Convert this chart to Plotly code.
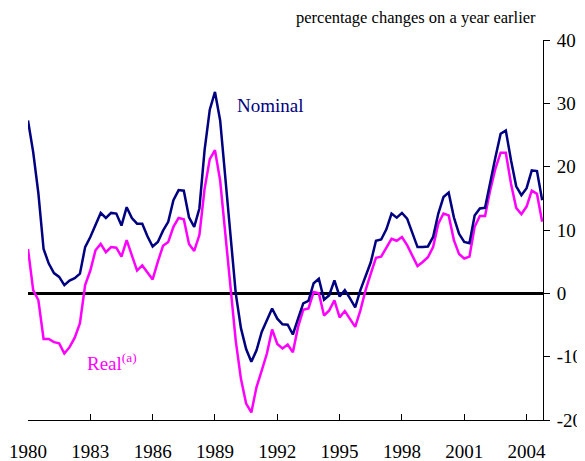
import plotly.graph_objects as go

start_year = 1980
nominal = [
    27.3, 22.3, 15.8, 7.0,
    4.7, 3.2, 2.6, 1.3,
    2.0, 2.4, 3.1, 7.3,
    8.9, 10.7, 12.7, 11.9,
    12.7, 12.6, 10.7, 13.6,
    11.9, 11.0, 11.0, 9.0,
    7.4, 8.1, 9.9, 11.3,
    14.7, 16.3, 16.2, 12.0,
    10.5, 13.4, 22.6, 29.0,
    31.8, 27.3, 18.5, 8.8,
    0.0, -5.5, -8.8, -10.8,
    -9.0, -6.1, -4.3, -2.4,
    -4.0, -4.9, -4.95, -6.5,
    -4.0, -1.6, -1.2, 1.6,
    2.3, -1.0, -0.3, 2.05,
    -0.5, 0.5, -0.8, -2.2,
    0.5, 2.6, 4.9, 8.3,
    8.5, 10.1, 12.6, 11.95,
    12.7, 11.8, 9.4, 7.3,
    7.3, 7.4, 8.9, 12.6,
    15.2, 15.9, 12.0, 9.4,
    8.1, 7.9, 12.3, 13.4,
    13.5, 17.8, 21.5, 25.2,
    25.7, 21.0, 16.9, 15.5,
    16.6, 19.4, 19.3, 14.7,
]
real = [
    7.0, 0.5, -1.1, -7.2,
    -7.2, -7.7, -7.9, -9.5,
    -8.5, -7.0, -4.7, 1.3,
    3.6, 6.8, 7.8, 6.5,
    7.3, 7.2, 5.8, 8.4,
    6.0, 3.6, 4.4, 3.2,
    2.2, 5.0, 7.5, 8.1,
    10.5, 11.9, 11.7, 7.8,
    6.7, 9.2, 16.5, 21.2,
    22.6, 17.8, 9.0, 0.5,
    -7.5, -13.5, -17.4, -18.8,
    -14.8, -12.2, -9.5, -5.7,
    -8.0, -8.7, -8.1, -9.3,
    -5.3, -2.6, -2.4, 0.2,
    0.0, -3.5, -2.7, -1.1,
    -3.8, -2.8, -4.0, -5.3,
    -2.7, 0.5, 3.1, 5.6,
    5.8, 7.3, 8.6, 8.3,
    8.9, 7.6, 6.0, 4.3,
    4.95, 5.7, 7.3, 11.0,
    12.6, 12.3, 8.4, 6.2,
    5.5, 5.8, 10.5, 12.2,
    12.2, 16.3, 19.7, 22.2,
    22.2, 17.3, 13.5, 12.5,
    13.7, 16.2, 15.7, 11.3,
]
quarters = [start_year + i / 4 for i in range(len(nominal))]

x_tick_vals = [1980, 1983, 1986, 1989, 1992, 1995, 1998, 2001, 2004]
x_tick_text = ["1980", "1983", "1986", "1989", "1992", "1995", "1998", "2001", "2004"]
y_tick_vals = [-20, -10, 0, 10, 20, 30, 40]
y_tick_text = ["-20", "-10", "0", "10", "20", "30", "40"]

FONT = "Liberation Serif"
NAVY = "#000080"
MAGENTA = "#FF00FF"

fig = go.Figure()
fig.add_trace(go.Scatter(x=quarters, y=real, mode="lines", name="Real",
                         line=dict(color=MAGENTA, width=2.5), showlegend=False))
fig.add_trace(go.Scatter(x=quarters, y=nominal, mode="lines", name="Nominal",
                         line=dict(color=NAVY, width=2.5), showlegend=False))

# page body has an 8px default margin, so the figure is 8px smaller
fig.update_layout(
    width=577, height=453, autosize=False,
    margin=dict(l=20, r=42, t=32, b=41),
    paper_bgcolor="white", plot_bgcolor="white",
    font=dict(family=FONT, size=19, color="black"),
    xaxis=dict(range=[1980, 2004.79], showgrid=False, zeroline=False,
               showline=True, linecolor="black", linewidth=1,
               ticks="inside", ticklen=6, tickcolor="black",
               tickvals=x_tick_vals, ticktext=x_tick_text,
               ticklabelstandoff=14, automargin=False,
               tickfont=dict(family=FONT, size=19)),
    yaxis=dict(range=[-20, 40], side="right", showgrid=False,
               zeroline=True, zerolinecolor="black", zerolinewidth=2.5,
               showline=True, linecolor="black", linewidth=1,
               ticks="outside", ticklen=6, tickcolor="black",
               tickvals=y_tick_vals, ticktext=y_tick_text,
               ticklabelstandoff=3, automargin=False,
               tickfont=dict(family=FONT, size=19)),
    annotations=[
        dict(text="percentage changes on a year earlier", xref="paper", yref="paper",
             x=0.99, y=1.0605, xanchor="right", yanchor="middle",
             showarrow=False, font=dict(family=FONT, size=16.5, color="black")),
        dict(text="Nominal", xref="x", yref="y", x=1991.69, y=29.7,
             xanchor="center", yanchor="middle", showarrow=False,
             font=dict(family=FONT, size=19, color=NAVY)),
        dict(text="Real<sup>(a)</sup>", xref="x", yref="y", x=1982.74, y=-10.9,
             xanchor="left", yanchor="middle", showarrow=False,
             font=dict(family=FONT, size=19, color=MAGENTA)),
    ],
)

fig.write_html("out.html")
